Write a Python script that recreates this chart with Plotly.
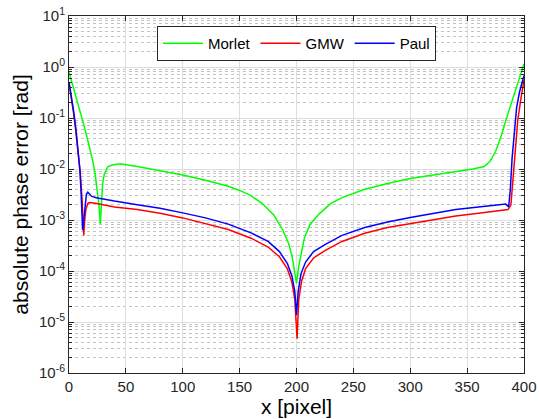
import plotly.graph_objects as go

# Morlet
x_morlet = [0, 3, 6, 9, 12, 15, 18, 21, 23, 25, 26.5, 27.5, 28.3, 29.5, 31, 34, 38, 45,
            60, 80, 100, 120, 140, 150, 160, 170, 180, 188, 193, 196, 198, 200,
            202, 204, 207, 212, 220, 230, 240, 260, 280, 300, 320, 340, 355, 365,
            370, 375, 380, 385, 390, 395, 400]
y_morlet = [0.79, 0.47, 0.27, 0.15, 8.9e-2, 5.0e-2, 2.7e-2, 1.4e-2, 7.9e-3, 3.5e-3, 1.8e-3, 8.3e-4,
            1.8e-3, 5.0e-3, 7.9e-3, 1.1e-2, 1.2e-2, 1.26e-2,
            1.12e-2, 9.3e-3, 7.6e-3, 6.0e-3, 4.6e-3, 3.8e-3, 3.0e-3, 2.1e-3, 1.26e-3, 6.3e-4,
            3.5e-4, 2.0e-4, 1.12e-4, 5.8e-5,
            1.26e-4, 2.2e-4, 4.5e-4, 8.3e-4, 1.32e-3, 2.1e-3, 2.75e-3, 4.0e-3, 5.2e-3, 6.5e-3,
            7.6e-3, 8.9e-3, 1.0e-2, 1.12e-2,
            1.4e-2, 2.2e-2, 4.5e-2, 0.105, 0.24, 0.54, 1.15]

# GMW
x_gmw = [0, 2, 4, 6, 8, 10, 11.5, 12.5, 13, 13.8, 14.8, 16.5, 18, 22, 27, 40, 60, 80, 100,
         120, 140, 160, 175, 185, 192, 196, 198.5, 200.5, 202, 204.5, 208, 215, 225, 240,
         260, 280, 300, 320, 340, 360, 375, 386, 388.5, 390, 392, 394.5, 397, 400]
y_gmw = [0.48, 0.26, 0.126, 5.6e-2, 2.2e-2, 7.9e-3, 2.5e-3, 1.0e-3, 5.0e-4, 1.0e-3, 1.6e-3,
         2.1e-3, 2.2e-3, 2.15e-3, 2.05e-3, 1.8e-3, 1.6e-3, 1.35e-3, 1.1e-3,
         8.5e-4, 6.5e-4, 4.4e-4, 2.95e-4, 1.9e-4, 1.1e-4, 6.0e-5, 2.8e-5, 4.7e-6, 2.8e-5,
         6.3e-5, 1.12e-4, 1.8e-4, 2.5e-4, 3.8e-4,
         5.5e-4, 7.1e-4, 8.5e-4, 1.02e-3, 1.2e-3, 1.35e-3, 1.48e-3, 1.6e-3, 2.0e-3, 5.0e-3,
         2.0e-2, 8.9e-2, 0.22, 0.55]

# Paul
x_paul = [0, 2, 4, 6, 8, 9.5, 10.5, 11.3, 12, 13, 14, 15.3, 16.5, 18, 20, 25, 30, 40, 60,
          80, 100, 120, 140, 160, 175, 185, 192, 196, 198.5, 200, 201.5, 204, 208, 215,
          225, 240, 260, 280, 300, 320, 340, 360, 375, 384, 386.5, 388, 389.5, 391.5,
          393.5, 396, 400]
y_paul = [0.51, 0.28, 0.14, 6.3e-2, 2.5e-2, 1.0e-2, 4.0e-3, 1.6e-3, 6.3e-4, 1.0e-3, 2.0e-3,
          3.2e-3, 3.5e-3, 3.2e-3, 2.9e-3, 2.7e-3, 2.6e-3, 2.35e-3, 2.0e-3,
          1.7e-3, 1.38e-3, 1.1e-3, 8.3e-4, 5.6e-4, 3.8e-4, 2.4e-4, 1.4e-4, 7.9e-5, 4.0e-5,
          1.38e-5, 4.0e-5, 8.9e-5, 1.5e-4, 2.4e-4,
          3.3e-4, 5.0e-4, 7.1e-4, 9.1e-4, 1.12e-3, 1.35e-3, 1.6e-3, 1.8e-3, 1.95e-3, 2.05e-3,
          1.8e-3, 4.0e-3, 1.6e-2, 5.6e-2, 0.16, 0.32, 0.68]

x_ticks = [0, 50, 100, 150, 200, 250, 300, 350, 400]
y_tick_exps = [-6, -5, -4, -3, -2, -1, 0, 1]
y_ticks = [10.0 ** e for e in y_tick_exps]
y_ticklabels = ["10<sup>%d</sup>" % e for e in y_tick_exps]

FONT = "Liberation Sans, Arial, sans-serif"

fig = go.Figure()
fig.add_trace(go.Scatter(x=x_morlet, y=y_morlet, mode="lines", name="Morlet",
                         line=dict(color="#00ff00", width=1.5)))
fig.add_trace(go.Scatter(x=x_gmw, y=y_gmw, mode="lines", name="GMW",
                         line=dict(color="#ff0000", width=1.5)))
fig.add_trace(go.Scatter(x=x_paul, y=y_paul, mode="lines", name="Paul",
                         line=dict(color="#0000ff", width=1.5)))

axis_common = dict(
    showline=True, linecolor="#262626", linewidth=1, mirror="ticks",
    ticks="inside", ticklen=5, tickcolor="#262626",
    showgrid=True, gridcolor="#dedede", gridwidth=1,
    zeroline=False, automargin=False,
    tickfont=dict(family=FONT, size=15, color="#262626"),
)

fig.update_xaxes(
    range=[0, 400], tickvals=x_ticks,
    title=dict(text="x [pixel]", font=dict(family=FONT, size=21, color="#000000"), standoff=2),
    **axis_common,
)
fig.update_yaxes(
    type="log", range=[-6, 1], tickvals=y_ticks, ticktext=y_ticklabels,
    title=dict(text="absolute phase error [rad]", font=dict(family=FONT, size=21, color="#000000"), standoff=4),
    minor=dict(dtick="D1", showgrid=True, gridcolor="#c4c4c4", griddash="dot", gridwidth=1,
               ticks="inside", ticklen=3, tickcolor="#262626"),
    **axis_common,
)

fig.update_layout(
    width=539, height=419,
    margin=dict(l=69, r=15, t=16, b=46),
    paper_bgcolor="white", plot_bgcolor="white",
    font=dict(family=FONT),
    showlegend=True,
    legend=dict(orientation="h", x=0.5, xanchor="center", y=0.972, yanchor="top",
                bgcolor="white", bordercolor="#262626", borderwidth=1,
                font=dict(family=FONT, size=15, color="#000000"),
                itemwidth=40, tracegroupgap=0),
)

fig.write_html("out.html")
